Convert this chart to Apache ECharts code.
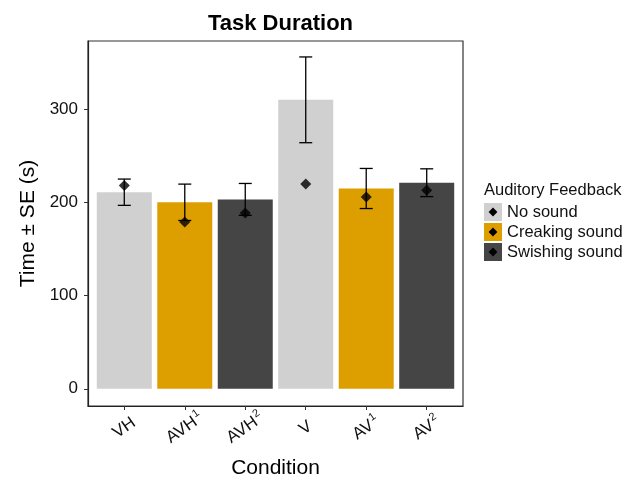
<!DOCTYPE html>
<html>
<head>
<meta charset="utf-8">
<script src="https://cdn.jsdelivr.net/npm/echarts@6/dist/echarts.min.js"></script>
<style>
html,body{margin:0;padding:0;background:#fff;}
#chart{width:644px;height:484px;}
</style>
</head>
<body>
<div id="chart"></div>
<script>
// ---- data ----
const conditionBase = ['VH', 'AVH', 'AVH', 'V', 'AV', 'AV'];
const conditionSup  = ['',   '1',   '2',   '',  '1',  '2'];
const feedbackGroup = [0, 1, 2, 0, 1, 2];
const groupNames = ['No sound', 'Creaking sound', 'Swishing sound'];
const meanTime = [210.8, 200.0, 203.1, 309.9, 214.8, 221.0];
const seTime   = [14.1, 19.5, 17.1, 46.0, 21.5, 14.9];
const medianTime = [218.0, 178.9, 188.5, 219.5, 205.6, 213.0];
const yTicks = [0, 100, 200, 300];

const colors = ['#D0D0D0', '#DD9F00', '#454545'];
const FONT = 'Liberation Sans';

const positions = conditionBase.map((c, i) => i + 1);

function legendIcon(col) {
  const svg = "<svg xmlns='http://www.w3.org/2000/svg' width='18' height='18'>" +
    "<rect width='18' height='18' fill='" + col + "'/>" +
    "<path d='M9 4.6 L13.4 9 L9 13.4 L4.6 9 Z' fill='#000'/></svg>";
  return 'image://data:image/svg+xml;charset=utf-8,' + encodeURIComponent(svg);
}

const barSeries = groupNames.map((name, g) => ({
  type: 'bar',
  name: name,
  barWidth: 55,
  barGap: '-100%',
  itemStyle: { color: colors[g] },
  data: positions.filter((p, i) => feedbackGroup[i] === g)
                 .map(p => [p, meanTime[p - 1]]),
  z: 2
}));

const errData = positions.map((p, i) => [p, meanTime[i] - seTime[i], meanTime[i] + seTime[i]]);

const chart = echarts.init(document.getElementById('chart'), null, { renderer: 'canvas' });
chart.setOption({
  animation: false,
  backgroundColor: '#fff',
  textStyle: { fontFamily: FONT },
  title: [
    {
      text: 'Task Duration',
      left: 275.5, top: 8, textAlign: 'center',
      textStyle: { fontFamily: FONT, fontSize: 22, fontWeight: 'bold', color: '#000' }
    },
    {
      text: 'Auditory Feedback',
      left: 479, top: 177,
      textStyle: { fontFamily: FONT, fontSize: 16.5, fontWeight: 'normal', color: '#111' }
    }
  ],
  legend: {
    orient: 'vertical',
    left: 484, top: 203,
    padding: 0,
    itemWidth: 18, itemHeight: 18, itemGap: 2,
    selectedMode: false,
    textStyle: { fontFamily: FONT, fontSize: 16.5, color: '#111' },
    data: groupNames.map((n, g) => ({ name: n, icon: legendIcon(colors[g]) }))
  },
  grid: {
    left: 88, top: 41, width: 375, height: 367,
    show: true, borderColor: '#333', borderWidth: 1.2, backgroundColor: '#fff'
  },
  xAxis: {
    type: 'value',
    min: 0.4, max: 6.6,
    name: 'Condition',
    nameLocation: 'middle',
    nameGap: 52,
    nameTextStyle: { fontFamily: FONT, fontSize: 21, color: '#000' },
    axisLine: { show: true, onZero: false, lineStyle: { color: '#222', width: 1.2 } },
    axisTick: { show: true, customValues: positions, length: 4, lineStyle: { color: '#333' } },
    splitLine: { show: false },
    axisLabel: {
      customValues: positions,
      rotate: 35,
      margin: 22,
      align: 'center',
      verticalAlign: 'middle',
      formatter: function (v) {
        const i = Math.round(v) - 1;
        return conditionSup[i] ? '{m|' + conditionBase[i] + '}{s|' + conditionSup[i] + '}' : '{m|' + conditionBase[i] + '}';
      },
      rich: {
        m: { fontFamily: FONT, fontSize: 17, color: '#111', lineHeight: 22 },
        s: { fontFamily: FONT, fontSize: 11, color: '#111', verticalAlign: 'top', lineHeight: 22, padding: [0, 0, 6, 1] }
      }
    }
  },
  yAxis: {
    type: 'value',
    min: -18.5, max: 373,
    name: 'Time ± SE (s)',
    nameLocation: 'middle',
    nameRotate: 90,
    nameGap: 49,
    nameTextStyle: { fontFamily: FONT, fontSize: 21, color: '#000' },
    axisLine: { show: true, onZero: false, lineStyle: { color: '#222', width: 1.2 } },
    axisTick: { show: true, customValues: yTicks, length: 4, lineStyle: { color: '#333' } },
    splitLine: { show: false },
    axisLabel: {
      customValues: yTicks,
      margin: 10,
      fontFamily: FONT, fontSize: 17, color: '#111'
    }
  },
  series: barSeries.concat([
    {
      type: 'custom',
      name: 'SE',
      z: 5,
      data: errData,
      encode: { x: 0, y: [1, 2] },
      renderItem: function (params, api) {
        const x = api.value(0);
        const lo = api.coord([x, api.value(1)]);
        const hi = api.coord([x, api.value(2)]);
        const hw = 6.5;
        const st = { stroke: '#000', lineWidth: 1.3 };
        return {
          type: 'group',
          children: [
            { type: 'line', shape: { x1: lo[0], y1: lo[1], x2: hi[0], y2: hi[1] }, style: st },
            { type: 'line', shape: { x1: lo[0] - hw, y1: lo[1], x2: lo[0] + hw, y2: lo[1] }, style: st },
            { type: 'line', shape: { x1: hi[0] - hw, y1: hi[1], x2: hi[0] + hw, y2: hi[1] }, style: st }
          ]
        };
      }
    },
    {
      type: 'scatter',
      name: 'Median',
      symbol: 'diamond',
      symbolSize: 11,
      z: 6,
      itemStyle: { color: '#000' },
      data: positions.map((p, i) => [p, medianTime[i]])
    }
  ])
});
</script>
</body>
</html>
